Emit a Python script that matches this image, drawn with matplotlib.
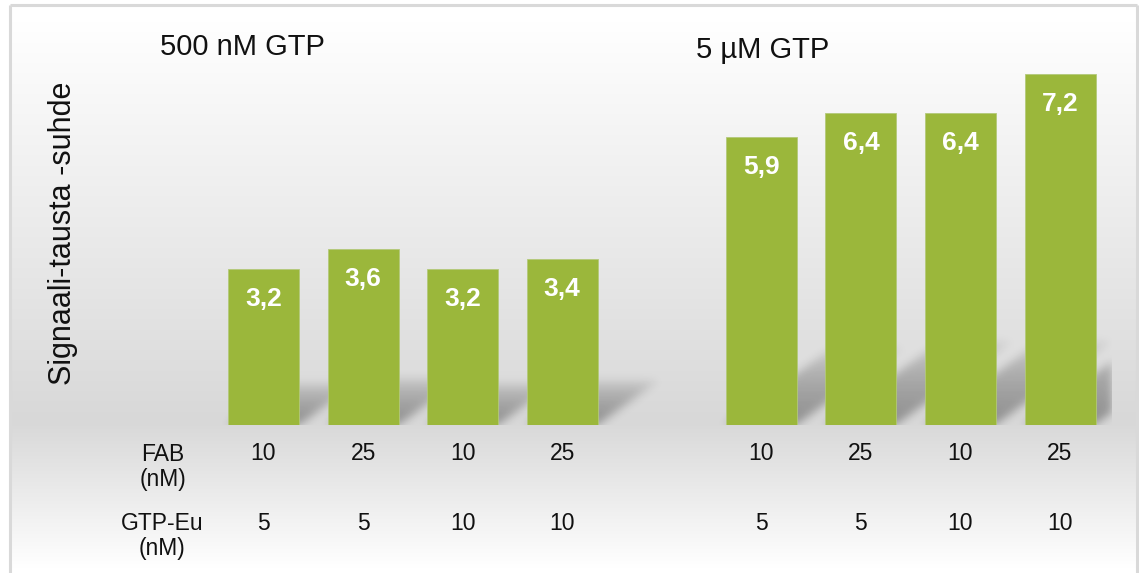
import numpy as np
import matplotlib
matplotlib.use("Agg")
import matplotlib.pyplot as plt
from matplotlib.transforms import blended_transform_factory

plt.rcParams['font.family'] = ['Liberation Sans', 'DejaVu Sans']

# ---- data ----
positions = [0, 1, 2, 3, 5, 6, 7, 8]
values = [3.2, 3.6, 3.2, 3.4, 5.9, 6.4, 6.4, 7.2]
value_labels = ['3,2', '3,6', '3,2', '3,4', '5,9', '6,4', '6,4', '7,2']
fab_nm = ['10', '25', '10', '25', '10', '25', '10', '25']
gtp_eu_nm = ['5', '5', '10', '10', '5', '5', '10', '10']
row_headers = ['FAB\n(nM)', 'GTP-Eu\n(nM)']
group_titles = ['500 nM GTP', '5 µM GTP']
y_label = 'Signaali-tausta -suhde'

BAR_COLOR = '#9bb73b'
W, H = 1139, 573
fig = plt.figure(figsize=(W / 100, H / 100), dpi=100)

# ---- background: framed chart area with vertical grey gradient ----
bg = fig.add_axes([0, 0, 1, 1], zorder=-10)
bg.set_xlim(0, W)
bg.set_ylim(H, 0)
bg.set_axis_off()
rows = np.arange(H) + 0.5
shade_col = np.interp(rows, [0, 22, 422, 568, H], [255, 255, 216, 255, 255]) / 255.0
img = np.ones((H, W, 3))
img[:, :, :] = shade_col[:, None, None]
frame_l, frame_r, frame_t = 10, 1137, 5
img[:, :frame_l] = 1.0
img[:, frame_r:] = 1.0
img[:frame_t] = 1.0
bg.imshow(img, extent=[0, W, H, 0], aspect='auto', interpolation='nearest')
fc = '#d9d9d9'
bg.plot([frame_l, frame_r], [frame_t, frame_t], color=fc, lw=2.2, solid_capstyle='butt')
bg.plot([frame_l, frame_l], [frame_t, H], color=fc, lw=2.2, solid_capstyle='butt')
bg.plot([frame_r, frame_r], [frame_t, H], color=fc, lw=2.2, solid_capstyle='butt')

# ---- main plot area ----
x0_px, dx_px = 263.5, 99.57
ax_l, ax_r, ax_b, ax_t = 200, 1112, 148, 513  # pixels (bottom-origin)
ppu = 48.8
ax = fig.add_axes([ax_l / W, ax_b / H, (ax_r - ax_l) / W, (ax_t - ax_b) / H])
xlim = ((ax_l - x0_px) / dx_px, (ax_r - x0_px) / dx_px)
ylim = (0, (ax_t - ax_b) / ppu)
ax.set_xlim(*xlim)
ax.set_ylim(*ylim)
ax.set_axis_off()
ax.patch.set_alpha(0)

bar_w = 0.713

# soft skewed shadows cast by each bar
nx, ny = ax_r - ax_l, ax_t - ax_b
xs = np.linspace(xlim[0], xlim[1], nx)
ys = np.linspace(ylim[0], ylim[1], ny)
X, Y = np.meshgrid(xs, ys)
shadow = np.zeros_like(X)
SHADOW_FRAC, SKEW = 0.27, 0.68
for p, v in zip(positions, values):
    top = SHADOW_FRAC * v
    t = Y / top
    inside = (t <= 1) & (X >= p - bar_w / 2 + Y * SKEW) & (X <= p + bar_w / 2 + Y * SKEW)
    shadow = np.maximum(shadow, np.where(inside, (1 - t) ** 0.5, 0.0))
sig = 4.5
kx = np.arange(-15, 16)
kern = np.exp(-kx ** 2 / (2 * sig ** 2))
kern /= kern.sum()
shadow = np.apply_along_axis(lambda r: np.convolve(r, kern, mode='same'), 1, shadow)
shadow = np.apply_along_axis(lambda c: np.convolve(c, kern, mode='same'), 0, shadow)
rgba = np.zeros((ny, nx, 4))
rgba[..., 3] = 0.34 * shadow
ax.imshow(rgba, extent=[xlim[0], xlim[1], ylim[0], ylim[1]], origin='lower',
          aspect='auto', zorder=1, interpolation='bilinear')

ax.bar(positions, values, width=bar_w, color=BAR_COLOR, edgecolor='#b3c97a',
       linewidth=0.6, zorder=2)

for p, v, lbl in zip(positions, values, value_labels):
    ax.annotate(lbl, (p, v), xytext=(0, -21.5), textcoords='offset points',
                ha='center', va='center', color='white', fontsize=19,
                fontweight='bold', zorder=3)

# ---- category rows under the bars ----
tr = blended_transform_factory(ax.transData, fig.transFigure)
for p, a, b in zip(positions, fab_nm, gtp_eu_nm):
    ax.text(p, 1 - 454 / H, a, transform=tr, ha='center', va='center',
            fontsize=16.5, color='#111111', clip_on=False)
    ax.text(p, 1 - 524 / H, b, transform=tr, ha='center', va='center',
            fontsize=16.5, color='#111111', clip_on=False)
fig.text(163 / W, 1 - 467 / H, row_headers[0], ha='center', va='center',
         multialignment='center', fontsize=16.5, color='#111111', linespacing=1.15)
fig.text(162 / W, 1 - 536 / H, row_headers[1], ha='center', va='center',
         multialignment='center', fontsize=16.5, color='#111111', linespacing=1.15)

# ---- group titles and y label ----
fig.text(242 / W, 1 - 47 / H, group_titles[0], ha='center', va='center',
         fontsize=21, color='#111111')
fig.text(763 / W, 1 - 50 / H, group_titles[1], ha='center', va='center',
         fontsize=21, color='#111111')
fig.text(63 / W, 1 - 233 / H, y_label, rotation=90, ha='center', va='center',
         fontsize=22, color='#111111')

fig.savefig('out.png', dpi=100)
